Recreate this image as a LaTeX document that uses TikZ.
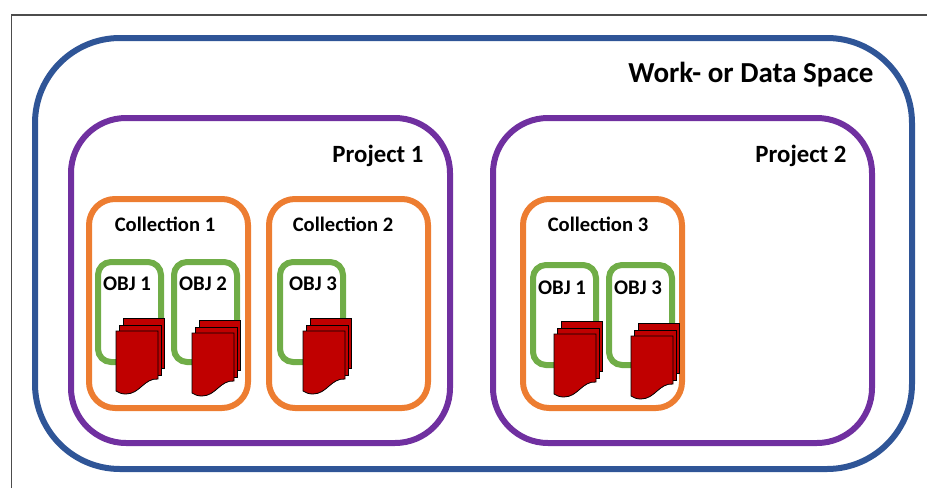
\documentclass[tikz,border=0pt]{standalone}
\usepackage{fontspec}
\setmainfont{Carlito}
\definecolor{wsblue}{HTML}{2F5597}
\definecolor{prpurple}{HTML}{7030A0}
\definecolor{colorange}{HTML}{ED7D31}
\definecolor{objgreen}{HTML}{70AD47}
\definecolor{docred}{HTML}{C00000}
\tikzset{
  space/.style={draw=wsblue,line width=6pt,rounded corners=85pt,inner sep=0pt,outer sep=0pt,anchor=north west},
  project/.style={draw=prpurple,line width=6pt,rounded corners=55pt,inner sep=0pt,outer sep=0pt,anchor=north west,minimum width=379pt,minimum height=325pt},
  collection/.style={draw=colorange,line width=6pt,rounded corners=26pt,inner sep=0pt,outer sep=0pt,anchor=north west,minimum width=159pt,minimum height=209pt},
  objbox/.style={draw=objgreen,line width=6pt,rounded corners=13pt,inner sep=0pt,outer sep=0pt,anchor=north west,minimum width=63pt,minimum height=100pt},
  bigtitle/.style={font=\fontsize{29}{33}\selectfont\bfseries,inner sep=0pt},
  title/.style={font=\fontsize{24.8}{28}\selectfont\bfseries,inner sep=0pt},
  coltitle/.style={font=\fontsize{20.6}{24}\selectfont\bfseries,inner sep=0pt},
  objtitle/.style={font=\fontsize{20.8}{24}\selectfont\bfseries,inner sep=0pt},
  sheet/.style={draw=black,fill=docred,line width=0.8pt},
  docs/.pic={
    \path[sheet] (7,-13) rectangle (48,37);
    \path[sheet] (3,-6) rectangle (45,44);
    \path[sheet] (0,0) -- (42,0) -- (42,48) .. controls (28,47) and (24,63) .. (10,63) .. controls (6,63) and (3,62) .. (0,60) -- cycle;
  }
}
\begin{document}
\begin{tikzpicture}[x=1pt,y=-1pt]
\useasboundingbox (0,0) rectangle (927,488);
\draw[line width=1.2pt,draw=black!70] (11.5,488) -- (11.5,15) -- (927,15);
\node[space,minimum width=877pt,minimum height=431pt] (ws) at (35,38) {};
\node[bigtitle] (wstitle) at (751,75) {Work- or Data Space};
\node[project] (p1) at (71,118) {};
\node[project] (p2) at (493,118) {};
\node[title] (p1t) at (378,156) {Project 1};
\node[title] (p2t) at (801,156) {Project 2};
\node[collection] (c1) at (89,199) {};
\node[collection] (c2) at (269,199) {};
\node[collection] (c3) at (523,199) {};
\node[coltitle] (c1t) at (165,224) {Collection 1};
\node[coltitle] (c2t) at (343,224) {Collection 2};
\node[coltitle] (c3t) at (598,224) {Collection 3};
\node[objbox] (o1) at (98,262) {};
\node[objbox] (o2) at (174,262) {};
\node[objbox] (o3) at (280,262) {};
\node[objbox] (o4) at (533,265) {};
\node[objbox] (o5) at (609,265) {};
\node[objtitle] (o1t) at (127,284) {OBJ 1};
\node[objtitle] (o2t) at (203,284) {OBJ 2};
\node[objtitle] (o3t) at (313,284) {OBJ 3};
\node[objtitle] (o4t) at (562,288) {OBJ 1};
\node[objtitle] (o5t) at (638,288) {OBJ 3};
\pic at (116,331) {docs};
\pic at (192,333) {docs};
\pic at (303,331) {docs};
\pic at (554,334) {docs};
\pic at (631,336) {docs};
\end{tikzpicture}
\end{document}
